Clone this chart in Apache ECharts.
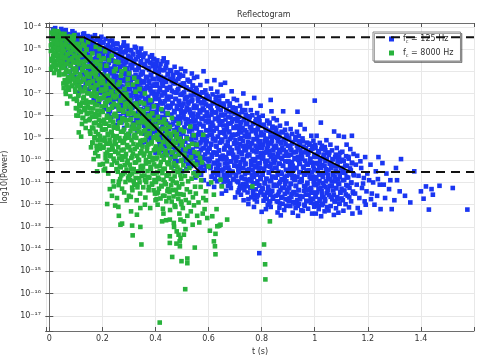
<!DOCTYPE html>
<html>
<head>
<meta charset="utf-8">
<script src="https://cdn.jsdelivr.net/npm/echarts@6/dist/echarts.min.js"></script>
<style>
html, body { margin: 0; padding: 0; background: #fff; }
#chart { width: 482px; height: 355px; }
</style>
</head>
<body>
<div id="chart"></div>
<script>
// t (s), log10(Power)
var blue125 = [
[0.022,-4.06],[0.045,-4.1],[0.014,-4.13],[0.05,-4.18],[0.031,-4.22],[0.04,-4.26],[0.018,-4.3],[0.048,-4.35],[0.027,-4.4],[0.036,-4.45],[0.012,-4.5],[0.043,-4.55],[0.024,-4.62],[0.049,-4.7],[0.034,-4.78],[0.041,-4.88],
[0.062,-4.15],[0.087,-4.2],[0.054,-4.24],[0.095,-4.28],[0.071,-4.33],[0.08,-4.38],[0.058,-4.42],[0.091,-4.47],[0.067,-4.52],[0.076,-4.56],[0.099,-4.61],[0.052,-4.66],[0.083,-4.7],[0.064,-4.75],[0.089,-4.8],[0.074,-4.85],[0.056,-4.9],[0.096,-4.95],[0.069,-5.0],[0.078,-5.06],[0.06,-5.12],[0.093,-5.18],[0.085,-5.25],[0.051,-5.32],[0.072,-5.4],[0.097,-5.48],[0.065,-5.57],[0.081,-5.66],[0.059,-5.76],[0.088,-5.9],[0.077,-6.05],[0.092,-6.2],[0.099,-6.4],
[0.131,-4.3],[0.107,-4.36],[0.144,-4.42],[0.119,-4.48],[0.102,-4.54],[0.138,-4.6],[0.125,-4.66],[0.113,-4.72],[0.147,-4.78],[0.109,-4.84],[0.134,-4.9],[0.121,-4.96],[0.14,-5.02],[0.105,-5.08],[0.128,-5.14],[0.116,-5.2],[0.143,-5.26],[0.111,-5.32],[0.136,-5.38],[0.123,-5.44],[0.101,-5.5],[0.149,-5.56],[0.118,-5.62],[0.13,-5.68],[0.106,-5.74],[0.141,-5.8],[0.114,-5.86],[0.126,-5.92],[0.145,-5.98],[0.103,-6.04],[0.133,-6.1],[0.12,-6.16],[0.139,-6.22],[0.108,-6.28],[0.127,-6.34],[0.146,-6.4],[0.115,-6.47],[0.137,-6.55],[0.104,-6.63],[0.124,-6.72],[0.148,-6.82],[0.112,-6.95],
[0.172,-4.38],[0.196,-4.45],[0.159,-4.51],[0.183,-4.58],[0.165,-4.64],[0.19,-4.71],[0.153,-4.77],[0.177,-4.84],[0.168,-4.9],[0.194,-4.97],[0.156,-5.03],[0.186,-5.1],[0.162,-5.16],[0.179,-5.23],[0.198,-5.29],[0.151,-5.36],[0.175,-5.42],[0.188,-5.49],[0.164,-5.55],[0.192,-5.62],[0.157,-5.68],[0.181,-5.75],[0.17,-5.81],[0.197,-5.88],[0.154,-5.94],[0.185,-6.01],[0.166,-6.07],[0.176,-6.14],[0.193,-6.2],[0.16,-6.27],[0.18,-6.33],[0.152,-6.4],[0.189,-6.46],[0.173,-6.53],[0.163,-6.6],[0.195,-6.67],[0.155,-6.74],[0.184,-6.81],[0.169,-6.88],[0.191,-6.96],[0.158,-7.04],[0.178,-7.12],[0.199,-7.2],[0.167,-7.3],[0.187,-7.42],
[0.212,-4.55],[0.237,-4.62],[0.204,-4.69],[0.245,-4.76],[0.221,-4.83],[0.23,-4.9],[0.208,-4.97],[0.241,-5.04],[0.217,-5.11],[0.226,-5.18],[0.249,-5.25],[0.202,-5.32],[0.233,-5.39],[0.214,-5.46],[0.239,-5.53],[0.224,-5.6],[0.206,-5.67],[0.246,-5.74],[0.219,-5.81],[0.228,-5.88],[0.21,-5.95],[0.243,-6.02],[0.235,-6.09],[0.201,-6.16],[0.222,-6.23],[0.247,-6.3],[0.215,-6.37],[0.231,-6.44],[0.209,-6.51],[0.238,-6.58],[0.227,-6.65],[0.203,-6.72],[0.244,-6.79],[0.218,-6.86],[0.236,-6.93],[0.211,-7.0],[0.248,-7.07],[0.225,-7.14],[0.205,-7.21],[0.24,-7.28],[0.22,-7.35],[0.232,-7.43],[0.213,-7.51],[0.242,-7.6],[0.207,-7.7],[0.229,-7.8],[0.223,-7.92],[0.234,-8.05],
[0.281,-4.7],[0.257,-4.78],[0.294,-4.85],[0.269,-4.93],[0.252,-5.0],[0.288,-5.08],[0.275,-5.15],[0.263,-5.23],[0.297,-5.3],[0.259,-5.38],[0.284,-5.45],[0.271,-5.53],[0.29,-5.6],[0.255,-5.68],[0.278,-5.75],[0.266,-5.83],[0.293,-5.9],[0.261,-5.98],[0.286,-6.05],[0.273,-6.13],[0.251,-6.2],[0.299,-6.28],[0.268,-6.35],[0.28,-6.43],[0.256,-6.5],[0.291,-6.58],[0.264,-6.65],[0.276,-6.73],[0.295,-6.8],[0.253,-6.88],[0.283,-6.95],[0.27,-7.03],[0.289,-7.1],[0.258,-7.18],[0.277,-7.25],[0.296,-7.33],[0.265,-7.4],[0.287,-7.48],[0.254,-7.55],[0.274,-7.63],[0.298,-7.7],[0.262,-7.78],[0.279,-7.86],[0.292,-7.94],[0.267,-8.02],[0.285,-8.1],[0.26,-8.2],[0.272,-8.3],[0.25,-8.42],[0.282,-8.55],
[0.322,-4.9],[0.346,-4.98],[0.309,-5.06],[0.333,-5.14],[0.315,-5.22],[0.34,-5.3],[0.303,-5.38],[0.327,-5.46],[0.318,-5.54],[0.344,-5.62],[0.306,-5.7],[0.336,-5.78],[0.312,-5.86],[0.329,-5.94],[0.348,-6.02],[0.301,-6.1],[0.325,-6.18],[0.338,-6.26],[0.314,-6.34],[0.342,-6.42],[0.307,-6.5],[0.331,-6.58],[0.32,-6.66],[0.347,-6.74],[0.304,-6.82],[0.335,-6.9],[0.316,-6.98],[0.326,-7.06],[0.343,-7.14],[0.31,-7.22],[0.33,-7.3],[0.302,-7.38],[0.339,-7.46],[0.323,-7.54],[0.313,-7.62],[0.345,-7.7],[0.305,-7.78],[0.334,-7.86],[0.319,-7.94],[0.341,-8.02],[0.308,-8.1],[0.328,-8.18],[0.349,-8.26],[0.317,-8.34],[0.337,-8.42],[0.311,-8.5],[0.324,-8.6],[0.332,-8.7],[0.3,-8.82],[0.321,-8.95],
[0.362,-5.2],[0.387,-5.28],[0.354,-5.36],[0.395,-5.45],[0.371,-5.53],[0.38,-5.61],[0.358,-5.69],[0.391,-5.77],[0.367,-5.86],[0.376,-5.94],[0.399,-6.02],[0.352,-6.1],[0.383,-6.18],[0.364,-6.27],[0.389,-6.35],[0.374,-6.43],[0.356,-6.51],[0.396,-6.59],[0.369,-6.68],[0.378,-6.76],[0.36,-6.84],[0.393,-6.92],[0.385,-7.0],[0.351,-7.09],[0.372,-7.17],[0.397,-7.25],[0.365,-7.33],[0.381,-7.41],[0.359,-7.5],[0.388,-7.58],[0.377,-7.66],[0.353,-7.74],[0.394,-7.82],[0.368,-7.91],[0.386,-7.99],[0.361,-8.07],[0.398,-8.15],[0.375,-8.23],[0.355,-8.32],[0.39,-8.4],[0.37,-8.48],[0.382,-8.56],[0.363,-8.64],[0.392,-8.73],[0.357,-8.81],[0.379,-8.89],[0.373,-8.98],[0.384,-9.08],[0.366,-9.18],[0.35,-9.3],
[0.431,-5.42],[0.407,-5.51],[0.444,-5.6],[0.419,-5.68],[0.402,-5.77],[0.438,-5.86],[0.425,-5.95],[0.413,-6.04],[0.447,-6.12],[0.409,-6.21],[0.434,-6.3],[0.421,-6.39],[0.44,-6.48],[0.405,-6.56],[0.428,-6.65],[0.416,-6.74],[0.443,-6.83],[0.411,-6.92],[0.436,-7.0],[0.423,-7.09],[0.401,-7.18],[0.449,-7.27],[0.418,-7.36],[0.43,-7.44],[0.406,-7.53],[0.441,-7.62],[0.414,-7.71],[0.426,-7.8],[0.445,-7.88],[0.403,-7.97],[0.433,-8.06],[0.42,-8.15],[0.439,-8.24],[0.408,-8.32],[0.427,-8.41],[0.446,-8.5],[0.415,-8.59],[0.437,-8.68],[0.404,-8.76],[0.424,-8.85],[0.448,-8.94],[0.412,-9.03],[0.429,-9.12],[0.442,-9.2],[0.417,-9.29],[0.435,-9.38],[0.41,-9.47],[0.422,-9.56],[0.4,-9.66],[0.432,-9.78],
[0.472,-5.8],[0.496,-5.89],[0.459,-5.98],[0.483,-6.07],[0.465,-6.16],[0.49,-6.25],[0.453,-6.34],[0.477,-6.43],[0.468,-6.52],[0.494,-6.61],[0.456,-6.7],[0.486,-6.79],[0.462,-6.88],[0.479,-6.97],[0.498,-7.06],[0.451,-7.15],[0.475,-7.24],[0.488,-7.33],[0.464,-7.42],[0.492,-7.51],[0.457,-7.6],[0.481,-7.69],[0.47,-7.78],[0.497,-7.87],[0.454,-7.96],[0.485,-8.05],[0.466,-8.14],[0.476,-8.23],[0.493,-8.32],[0.46,-8.41],[0.48,-8.5],[0.452,-8.59],[0.489,-8.68],[0.473,-8.77],[0.463,-8.86],[0.495,-8.95],[0.455,-9.04],[0.484,-9.13],[0.469,-9.22],[0.491,-9.31],[0.458,-9.4],[0.478,-9.49],[0.499,-9.58],[0.467,-9.67],[0.487,-9.76],[0.461,-9.85],[0.474,-9.94],[0.482,-10.04],[0.45,-10.14],[0.471,-10.26],
[0.512,-6.0],[0.537,-6.1],[0.504,-6.2],[0.545,-6.3],[0.521,-6.38],[0.53,-6.46],[0.508,-6.55],[0.541,-6.64],[0.517,-6.73],[0.526,-6.82],[0.549,-6.91],[0.502,-7.0],[0.533,-7.09],[0.514,-7.18],[0.539,-7.27],[0.524,-7.36],[0.506,-7.45],[0.546,-7.54],[0.519,-7.63],[0.528,-7.72],[0.51,-7.81],[0.543,-7.9],[0.535,-7.99],[0.501,-8.08],[0.522,-8.17],[0.547,-8.26],[0.515,-8.35],[0.531,-8.44],[0.509,-8.53],[0.538,-8.62],[0.527,-8.71],[0.503,-8.8],[0.544,-8.89],[0.518,-8.98],[0.536,-9.07],[0.511,-9.16],[0.548,-9.25],[0.525,-9.34],[0.505,-9.43],[0.54,-9.52],[0.52,-9.61],[0.532,-9.7],[0.513,-9.79],[0.542,-9.88],[0.507,-9.97],[0.529,-10.06],[0.523,-10.16],[0.534,-10.26],[0.516,-10.38],[0.5,-10.5],
[0.581,-6.0],[0.557,-6.25],[0.594,-6.45],[0.569,-6.62],[0.552,-6.75],[0.588,-6.86],[0.575,-6.95],[0.563,-7.04],[0.597,-7.13],[0.559,-7.22],[0.584,-7.31],[0.571,-7.4],[0.59,-7.49],[0.555,-7.58],[0.578,-7.67],[0.566,-7.76],[0.593,-7.85],[0.561,-7.94],[0.586,-8.03],[0.573,-8.12],[0.551,-8.21],[0.599,-8.3],[0.568,-8.39],[0.58,-8.48],[0.556,-8.57],[0.591,-8.66],[0.564,-8.75],[0.576,-8.84],[0.595,-8.93],[0.553,-9.02],[0.583,-9.11],[0.57,-9.2],[0.589,-9.29],[0.558,-9.38],[0.577,-9.47],[0.596,-9.56],[0.565,-9.65],[0.587,-9.74],[0.554,-9.83],[0.574,-9.92],[0.598,-10.01],[0.562,-10.1],[0.579,-10.19],[0.592,-10.28],[0.567,-10.37],[0.585,-10.46],[0.56,-10.56],[0.572,-10.66],[0.55,-10.78],[0.582,-10.9],
[0.622,-6.4],[0.646,-6.6],[0.609,-6.78],[0.633,-6.92],[0.615,-7.04],[0.64,-7.14],[0.603,-7.23],[0.627,-7.32],[0.618,-7.41],[0.644,-7.5],[0.606,-7.59],[0.636,-7.68],[0.612,-7.77],[0.629,-7.86],[0.648,-7.95],[0.601,-8.04],[0.625,-8.13],[0.638,-8.22],[0.614,-8.31],[0.642,-8.4],[0.607,-8.49],[0.631,-8.58],[0.62,-8.67],[0.647,-8.76],[0.604,-8.85],[0.635,-8.94],[0.616,-9.03],[0.626,-9.12],[0.643,-9.21],[0.61,-9.3],[0.63,-9.39],[0.602,-9.48],[0.639,-9.57],[0.623,-9.66],[0.613,-9.75],[0.645,-9.84],[0.605,-9.93],[0.634,-10.02],[0.619,-10.11],[0.641,-10.2],[0.608,-10.29],[0.628,-10.38],[0.649,-10.47],[0.617,-10.56],[0.637,-10.65],[0.611,-10.74],[0.624,-10.84],[0.632,-10.95],[0.6,-11.07],[0.621,-11.2],
[0.662,-6.52],[0.687,-6.9],[0.654,-7.1],[0.695,-7.24],[0.671,-7.35],[0.68,-7.45],[0.658,-7.54],[0.691,-7.63],[0.667,-7.72],[0.676,-7.81],[0.699,-7.9],[0.652,-7.99],[0.683,-8.08],[0.664,-8.17],[0.689,-8.26],[0.674,-8.35],[0.656,-8.44],[0.696,-8.53],[0.669,-8.62],[0.678,-8.71],[0.66,-8.8],[0.693,-8.89],[0.685,-8.98],[0.651,-9.07],[0.672,-9.16],[0.697,-9.25],[0.665,-9.34],[0.681,-9.43],[0.659,-9.52],[0.688,-9.61],[0.677,-9.7],[0.653,-9.79],[0.694,-9.88],[0.668,-9.97],[0.686,-10.06],[0.661,-10.15],[0.698,-10.24],[0.675,-10.33],[0.655,-10.42],[0.69,-10.51],[0.67,-10.6],[0.682,-10.69],[0.663,-10.78],[0.692,-10.87],[0.657,-10.96],[0.679,-11.05],[0.673,-11.15],[0.684,-11.25],[0.666,-11.37],[0.65,-11.5],
[0.731,-7.0],[0.707,-7.3],[0.744,-7.45],[0.719,-7.56],[0.702,-7.66],[0.738,-7.75],[0.725,-7.84],[0.713,-7.93],[0.747,-8.02],[0.709,-8.11],[0.734,-8.2],[0.721,-8.29],[0.74,-8.38],[0.705,-8.47],[0.728,-8.56],[0.716,-8.65],[0.743,-8.74],[0.711,-8.83],[0.736,-8.92],[0.723,-9.01],[0.701,-9.1],[0.749,-9.19],[0.718,-9.28],[0.73,-9.37],[0.706,-9.46],[0.741,-9.55],[0.714,-9.64],[0.726,-9.73],[0.745,-9.82],[0.703,-9.91],[0.733,-10.0],[0.72,-10.09],[0.739,-10.18],[0.708,-10.27],[0.727,-10.36],[0.746,-10.45],[0.715,-10.54],[0.737,-10.63],[0.704,-10.72],[0.724,-10.81],[0.748,-10.9],[0.712,-10.99],[0.729,-11.08],[0.742,-11.17],[0.717,-11.26],[0.735,-11.35],[0.71,-11.45],[0.722,-11.55],[0.7,-11.67],[0.732,-11.8],
[0.772,-7.2],[0.796,-7.55],[0.759,-7.75],[0.783,-7.88],[0.765,-7.98],[0.79,-8.07],[0.753,-8.16],[0.777,-8.25],[0.768,-8.34],[0.794,-8.43],[0.756,-8.52],[0.786,-8.61],[0.762,-8.7],[0.779,-8.79],[0.798,-8.88],[0.751,-8.97],[0.775,-9.06],[0.788,-9.15],[0.764,-9.24],[0.792,-9.33],[0.757,-9.42],[0.781,-9.51],[0.77,-9.6],[0.797,-9.69],[0.754,-9.78],[0.785,-9.87],[0.766,-9.96],[0.776,-10.05],[0.793,-10.14],[0.76,-10.23],[0.78,-10.32],[0.752,-10.41],[0.789,-10.5],[0.773,-10.59],[0.763,-10.68],[0.795,-10.77],[0.755,-10.86],[0.784,-10.95],[0.769,-11.04],[0.791,-11.13],[0.758,-11.22],[0.778,-11.31],[0.799,-11.4],[0.767,-11.49],[0.787,-11.58],[0.761,-11.67],[0.774,-11.76],[0.782,-11.86],[0.75,-11.97],[0.771,-12.1],[0.791,-14.18],
[0.834,-7.29],[0.837,-7.8],[0.804,-8.0],[0.845,-8.12],[0.821,-8.22],[0.83,-8.31],[0.808,-8.4],[0.841,-8.49],[0.817,-8.58],[0.826,-8.67],[0.849,-8.76],[0.802,-8.85],[0.833,-8.94],[0.814,-9.03],[0.839,-9.12],[0.824,-9.21],[0.806,-9.3],[0.846,-9.39],[0.819,-9.48],[0.828,-9.57],[0.81,-9.66],[0.843,-9.75],[0.835,-9.84],[0.801,-9.93],[0.822,-10.02],[0.847,-10.11],[0.815,-10.2],[0.831,-10.29],[0.809,-10.38],[0.838,-10.47],[0.827,-10.56],[0.803,-10.65],[0.844,-10.74],[0.818,-10.83],[0.836,-10.92],[0.811,-11.01],[0.848,-11.1],[0.825,-11.19],[0.805,-11.28],[0.84,-11.37],[0.82,-11.46],[0.832,-11.55],[0.813,-11.64],[0.842,-11.73],[0.807,-11.82],[0.829,-11.91],[0.823,-12.0],[0.834,-12.1],[0.816,-12.2],[0.8,-12.32],
[0.881,-7.8],[0.857,-8.2],[0.894,-8.35],[0.869,-8.45],[0.852,-8.54],[0.888,-8.63],[0.875,-8.72],[0.863,-8.81],[0.897,-8.9],[0.859,-8.99],[0.884,-9.08],[0.871,-9.17],[0.89,-9.26],[0.855,-9.35],[0.878,-9.44],[0.866,-9.53],[0.893,-9.62],[0.861,-9.71],[0.886,-9.8],[0.873,-9.89],[0.851,-9.98],[0.899,-10.07],[0.868,-10.16],[0.88,-10.25],[0.856,-10.34],[0.891,-10.43],[0.864,-10.52],[0.876,-10.61],[0.895,-10.7],[0.853,-10.79],[0.883,-10.88],[0.87,-10.97],[0.889,-11.06],[0.858,-11.15],[0.877,-11.24],[0.896,-11.33],[0.865,-11.42],[0.887,-11.51],[0.854,-11.6],[0.874,-11.69],[0.898,-11.78],[0.862,-11.87],[0.879,-11.96],[0.892,-12.05],[0.867,-12.14],[0.885,-12.24],[0.86,-12.35],[0.872,-12.48],
[0.935,-7.82],[0.946,-8.4],[0.909,-8.6],[0.933,-8.72],[0.915,-8.82],[0.94,-8.91],[0.903,-9.0],[0.927,-9.09],[0.918,-9.18],[0.944,-9.27],[0.906,-9.36],[0.936,-9.45],[0.912,-9.54],[0.929,-9.63],[0.948,-9.72],[0.901,-9.81],[0.925,-9.9],[0.938,-9.99],[0.914,-10.08],[0.942,-10.17],[0.907,-10.26],[0.931,-10.35],[0.92,-10.44],[0.947,-10.53],[0.904,-10.62],[0.922,-10.71],[0.916,-10.8],[0.926,-10.89],[0.943,-10.98],[0.91,-11.07],[0.93,-11.16],[0.902,-11.25],[0.939,-11.34],[0.923,-11.43],[0.913,-11.52],[0.945,-11.61],[0.905,-11.7],[0.934,-11.79],[0.919,-11.88],[0.941,-11.97],[0.908,-12.06],[0.928,-12.15],[0.949,-12.25],[0.917,-12.36],[0.937,-12.5],
[1.0,-7.32],[0.962,-8.6],[0.987,-8.9],[0.954,-9.02],[0.995,-9.12],[0.971,-9.21],[0.98,-9.3],[0.958,-9.39],[0.991,-9.48],[0.967,-9.57],[0.976,-9.66],[0.999,-9.75],[0.952,-9.84],[0.983,-9.93],[0.964,-10.02],[0.989,-10.11],[0.974,-10.2],[0.956,-10.29],[0.996,-10.38],[0.969,-10.47],[0.978,-10.56],[0.96,-10.65],[0.993,-10.74],[0.985,-10.83],[0.951,-10.92],[0.972,-11.01],[0.997,-11.1],[0.965,-11.19],[0.981,-11.28],[0.959,-11.37],[0.988,-11.46],[0.977,-11.55],[0.953,-11.64],[0.994,-11.73],[0.968,-11.82],[0.986,-11.91],[0.961,-12.0],[0.998,-12.09],[0.975,-12.18],[0.955,-12.28],[0.99,-12.4],
[1.023,-8.31],[1.007,-8.9],[1.044,-9.1],[1.019,-9.22],[1.002,-9.32],[1.038,-9.41],[1.025,-9.5],[1.013,-9.59],[1.047,-9.68],[1.009,-9.77],[1.034,-9.86],[1.021,-9.95],[1.04,-10.04],[1.005,-10.13],[1.028,-10.22],[1.016,-10.31],[1.043,-10.4],[1.011,-10.49],[1.036,-10.58],[1.031,-10.67],[1.001,-10.76],[1.049,-10.85],[1.018,-10.94],[1.03,-11.03],[1.006,-11.12],[1.041,-11.21],[1.014,-11.3],[1.026,-11.39],[1.045,-11.48],[1.003,-11.57],[1.033,-11.66],[1.02,-11.75],[1.039,-11.84],[1.008,-11.93],[1.027,-12.02],[1.046,-12.11],[1.015,-12.2],[1.037,-12.3],[1.004,-12.4],[1.024,-12.52],
[1.073,-8.71],[1.09,-8.9],[1.059,-9.3],[1.083,-9.45],[1.065,-9.56],[1.096,-9.66],[1.053,-9.76],[1.077,-9.86],[1.068,-9.96],[1.094,-10.06],[1.056,-10.16],[1.086,-10.26],[1.062,-10.36],[1.079,-10.46],[1.098,-10.56],[1.051,-10.66],[1.075,-10.76],[1.088,-10.86],[1.064,-10.96],[1.092,-11.06],[1.057,-11.16],[1.081,-11.26],[1.07,-11.36],[1.097,-11.46],[1.054,-11.56],[1.085,-11.66],[1.066,-11.76],[1.076,-11.86],[1.093,-11.96],[1.06,-12.06],[1.08,-12.16],[1.052,-12.26],[1.089,-12.36],[1.072,-12.46],
[1.14,-8.9],[1.11,-8.95],[1.12,-9.3],[1.134,-9.5],[1.104,-9.62],[1.146,-9.72],[1.118,-9.82],[1.128,-9.93],[1.109,-10.04],[1.141,-10.14],[1.122,-10.25],[1.102,-10.36],[1.136,-10.46],[1.115,-10.57],[1.148,-10.68],[1.126,-10.78],[1.106,-10.9],[1.138,-11.0],[1.119,-11.12],[1.131,-11.24],[1.112,-11.36],[1.144,-11.48],[1.124,-11.6],[1.101,-11.72],[1.137,-11.85],[1.116,-11.98],[1.129,-12.12],[1.108,-12.27],[1.142,-12.4],
[1.16,-9.8],[1.19,-9.86],[1.155,-10.2],[1.175,-10.35],[1.165,-10.7],[1.185,-10.8],[1.198,-10.6],[1.158,-11.1],[1.178,-11.25],[1.195,-11.4],[1.168,-11.7],[1.188,-11.85],[1.162,-12.15],[1.172,-10.05],[1.182,-11.05],[1.152,-11.5],[1.192,-12.0],[1.17,-12.35],
[1.24,-9.86],[1.21,-10.2],[1.23,-10.5],[1.205,-10.9],[1.22,-11.0],[1.245,-11.1],[1.215,-11.5],[1.235,-11.6],[1.225,-12.0],[1.248,-12.2],[1.212,-11.75],[1.238,-10.85],
[1.255,-10.13],[1.27,-10.6],[1.26,-11.1],[1.28,-11.3],[1.265,-11.7],[1.29,-12.2],[1.306,-10.35],[1.325,-9.95],[1.31,-10.9],[1.32,-11.4],[1.3,-11.8],[1.34,-11.6],[1.285,-10.9],
[1.375,-10.5],[1.4,-11.4],[1.419,-11.18],[1.44,-11.3],[1.445,-11.55],[1.47,-11.15],[1.52,-11.25],[1.43,-12.22],[1.575,-12.22],[1.41,-11.73],[1.36,-11.9],
// denser core of the 125 Hz cloud
[0.127,-4.33],[0.103,-4.43],[0.14,-4.53],[0.115,-4.63],[0.133,-4.73],[0.108,-4.83],[0.146,-4.93],[0.12,-5.03],[0.111,-5.13],[0.137,-5.23],[0.124,-5.33],[0.101,-5.43],[0.144,-5.53],[0.117,-5.63],[0.13,-5.73],
[0.155,-4.45],[0.179,-4.55],[0.192,-4.65],[0.167,-4.75],[0.186,-4.85],[0.161,-4.95],[0.174,-5.05],[0.198,-5.15],[0.152,-5.25],[0.183,-5.35],[0.169,-5.45],[0.194,-5.55],[0.158,-5.65],[0.177,-5.75],[0.189,-5.85],[0.164,-5.95],[0.181,-6.05],[0.151,-6.15],[0.196,-6.25],[0.172,-6.35],
[0.227,-4.63],[0.203,-4.73],[0.24,-4.83],[0.215,-4.93],[0.233,-5.03],[0.208,-5.13],[0.246,-5.23],[0.22,-5.33],[0.211,-5.43],[0.237,-5.53],[0.224,-5.63],[0.201,-5.73],[0.244,-5.83],[0.217,-5.93],[0.23,-6.03],[0.206,-6.13],[0.242,-6.23],[0.213,-6.33],[0.235,-6.43],[0.222,-6.53],[0.248,-6.63],[0.209,-6.73],[0.228,-6.83],[0.204,-6.93],[0.239,-7.03],[0.218,-7.13],[0.231,-7.23],
[0.255,-4.75],[0.279,-4.85],[0.292,-4.95],[0.267,-5.05],[0.286,-5.15],[0.261,-5.25],[0.274,-5.35],[0.298,-5.45],[0.252,-5.55],[0.283,-5.65],[0.269,-5.75],[0.294,-5.85],[0.258,-5.95],[0.277,-6.05],[0.289,-6.15],[0.264,-6.25],[0.281,-6.35],[0.251,-6.45],[0.296,-6.55],[0.272,-6.65],[0.26,-6.75],[0.287,-6.85],[0.275,-6.95],[0.293,-7.05],[0.266,-7.15],[0.253,-7.25],[0.284,-7.35],[0.271,-7.45],[0.297,-7.55],[0.262,-7.65],[0.278,-7.75],
[0.327,-4.95],[0.303,-5.05],[0.34,-5.15],[0.315,-5.25],[0.333,-5.35],[0.308,-5.45],[0.346,-5.55],[0.32,-5.65],[0.311,-5.75],[0.337,-5.85],[0.324,-5.95],[0.301,-6.05],[0.344,-6.15],[0.317,-6.25],[0.33,-6.35],[0.306,-6.45],[0.342,-6.55],[0.313,-6.65],[0.335,-6.75],[0.322,-6.85],[0.348,-6.95],[0.309,-7.05],[0.328,-7.15],[0.304,-7.25],[0.339,-7.35],[0.318,-7.45],[0.331,-7.55],[0.312,-7.65],[0.345,-7.75],[0.302,-7.85],[0.325,-7.95],[0.336,-8.05],[0.307,-8.15],[0.343,-8.25],[0.319,-8.35],
[0.355,-5.25],[0.379,-5.35],[0.392,-5.45],[0.367,-5.55],[0.386,-5.65],[0.361,-5.75],[0.374,-5.85],[0.398,-5.95],[0.352,-6.05],[0.383,-6.15],[0.369,-6.25],[0.394,-6.35],[0.358,-6.45],[0.377,-6.55],[0.389,-6.65],[0.364,-6.75],[0.381,-6.85],[0.351,-6.95],[0.396,-7.05],[0.372,-7.15],[0.36,-7.25],[0.387,-7.35],[0.375,-7.45],[0.393,-7.55],[0.366,-7.65],[0.353,-7.75],[0.384,-7.85],[0.371,-7.95],[0.397,-8.05],[0.362,-8.15],[0.378,-8.25],[0.39,-8.35],[0.357,-8.45],[0.368,-8.55],[0.395,-8.65],[0.373,-8.75],[0.382,-8.85],
[0.427,-5.55],[0.403,-5.65],[0.44,-5.75],[0.415,-5.85],[0.433,-5.95],[0.408,-6.05],[0.446,-6.15],[0.42,-6.25],[0.411,-6.35],[0.437,-6.45],[0.424,-6.55],[0.401,-6.65],[0.444,-6.75],[0.417,-6.85],[0.43,-6.95],[0.406,-7.05],[0.442,-7.15],[0.413,-7.25],[0.435,-7.35],[0.422,-7.45],[0.448,-7.55],[0.409,-7.65],[0.428,-7.75],[0.404,-7.85],[0.439,-7.95],[0.418,-8.05],[0.431,-8.15],[0.412,-8.25],[0.445,-8.35],[0.402,-8.45],[0.425,-8.55],[0.436,-8.65],[0.407,-8.75],[0.443,-8.85],[0.419,-8.95],[0.432,-9.05],[0.414,-9.15],[0.447,-9.25],[0.423,-9.35],
[0.455,-5.95],[0.479,-6.05],[0.492,-6.15],[0.467,-6.25],[0.486,-6.35],[0.461,-6.45],[0.474,-6.55],[0.498,-6.65],[0.452,-6.75],[0.483,-6.85],[0.469,-6.95],[0.494,-7.05],[0.458,-7.15],[0.477,-7.25],[0.489,-7.35],[0.464,-7.45],[0.481,-7.55],[0.451,-7.65],[0.496,-7.75],[0.472,-7.85],[0.46,-7.95],[0.487,-8.05],[0.475,-8.15],[0.493,-8.25],[0.466,-8.35],[0.453,-8.45],[0.484,-8.55],[0.471,-8.65],[0.497,-8.75],[0.462,-8.85],[0.478,-8.95],[0.49,-9.05],[0.457,-9.15],[0.468,-9.25],[0.495,-9.35],[0.473,-9.45],[0.482,-9.55],[0.45,-9.65],[0.488,-9.75],
[0.527,-6.45],[0.503,-6.55],[0.54,-6.65],[0.515,-6.75],[0.533,-6.85],[0.508,-6.95],[0.546,-7.05],[0.52,-7.15],[0.511,-7.25],[0.537,-7.35],[0.524,-7.45],[0.501,-7.55],[0.544,-7.65],[0.517,-7.75],[0.53,-7.85],[0.506,-7.95],[0.542,-8.05],[0.513,-8.15],[0.535,-8.25],[0.522,-8.35],[0.548,-8.45],[0.509,-8.55],[0.528,-8.65],[0.504,-8.75],[0.539,-8.85],[0.518,-8.95],[0.531,-9.05],[0.512,-9.15],[0.545,-9.25],[0.502,-9.35],[0.525,-9.45],[0.536,-9.55],[0.507,-9.65],[0.543,-9.75],[0.519,-9.85],[0.532,-9.95],[0.514,-10.05],[0.547,-10.15],
[0.555,-6.85],[0.579,-6.95],[0.592,-7.05],[0.567,-7.15],[0.586,-7.25],[0.561,-7.35],[0.574,-7.45],[0.598,-7.55],[0.552,-7.65],[0.583,-7.75],[0.569,-7.85],[0.594,-7.95],[0.558,-8.05],[0.577,-8.15],[0.589,-8.25],[0.564,-8.35],[0.581,-8.45],[0.551,-8.55],[0.596,-8.65],[0.572,-8.75],[0.56,-8.85],[0.587,-8.95],[0.575,-9.05],[0.593,-9.15],[0.566,-9.25],[0.553,-9.35],[0.584,-9.45],[0.571,-9.55],[0.597,-9.65],[0.562,-9.75],[0.578,-9.85],[0.59,-9.95],[0.557,-10.05],[0.568,-10.15],[0.595,-10.25],[0.573,-10.35],[0.582,-10.45],[0.55,-10.55],
[0.627,-7.15],[0.603,-7.25],[0.64,-7.35],[0.615,-7.45],[0.633,-7.55],[0.608,-7.65],[0.646,-7.75],[0.62,-7.85],[0.611,-7.95],[0.637,-8.05],[0.624,-8.15],[0.601,-8.25],[0.644,-8.35],[0.617,-8.45],[0.63,-8.55],[0.606,-8.65],[0.642,-8.75],[0.613,-8.85],[0.635,-8.95],[0.622,-9.05],[0.648,-9.15],[0.609,-9.25],[0.628,-9.35],[0.604,-9.45],[0.639,-9.55],[0.618,-9.65],[0.631,-9.75],[0.612,-9.85],[0.645,-9.95],[0.602,-10.05],[0.625,-10.15],[0.636,-10.25],[0.607,-10.35],[0.643,-10.45],[0.619,-10.55],[0.632,-10.65],[0.614,-10.75],[0.647,-10.85],
[0.655,-7.45],[0.679,-7.55],[0.692,-7.65],[0.667,-7.75],[0.686,-7.85],[0.661,-7.95],[0.674,-8.05],[0.698,-8.15],[0.652,-8.25],[0.683,-8.35],[0.669,-8.45],[0.694,-8.55],[0.658,-8.65],[0.677,-8.75],[0.689,-8.85],[0.664,-8.95],[0.681,-9.05],[0.651,-9.15],[0.696,-9.25],[0.672,-9.35],[0.66,-9.45],[0.687,-9.55],[0.675,-9.65],[0.693,-9.75],[0.666,-9.85],[0.653,-9.95],[0.684,-10.05],[0.671,-10.15],[0.697,-10.25],[0.662,-10.35],[0.678,-10.45],[0.69,-10.55],[0.657,-10.65],[0.668,-10.75],[0.695,-10.85],[0.673,-10.95],[0.682,-11.05],[0.65,-11.15],
[0.727,-7.75],[0.703,-7.85],[0.74,-7.95],[0.715,-8.05],[0.733,-8.15],[0.708,-8.25],[0.746,-8.35],[0.72,-8.45],[0.711,-8.55],[0.737,-8.65],[0.724,-8.75],[0.701,-8.85],[0.744,-8.95],[0.717,-9.05],[0.73,-9.15],[0.706,-9.25],[0.742,-9.35],[0.713,-9.45],[0.735,-9.55],[0.722,-9.65],[0.748,-9.75],[0.709,-9.85],[0.728,-9.95],[0.704,-10.05],[0.739,-10.15],[0.718,-10.25],[0.731,-10.35],[0.712,-10.45],[0.745,-10.55],[0.702,-10.65],[0.725,-10.75],[0.736,-10.85],[0.707,-10.95],[0.743,-11.05],[0.719,-11.15],[0.732,-11.25],[0.714,-11.35],[0.747,-11.45],
[0.755,-8.05],[0.779,-8.15],[0.792,-8.25],[0.767,-8.35],[0.786,-8.45],[0.761,-8.55],[0.774,-8.65],[0.798,-8.75],[0.752,-8.85],[0.783,-8.95],[0.769,-9.05],[0.794,-9.15],[0.758,-9.25],[0.777,-9.35],[0.789,-9.45],[0.764,-9.55],[0.781,-9.65],[0.751,-9.75],[0.796,-9.85],[0.772,-9.95],[0.76,-10.05],[0.787,-10.15],[0.775,-10.25],[0.793,-10.35],[0.766,-10.45],[0.753,-10.55],[0.784,-10.65],[0.771,-10.75],[0.797,-10.85],[0.762,-10.95],[0.778,-11.05],[0.79,-11.15],[0.757,-11.25],[0.768,-11.35],[0.795,-11.45],[0.773,-11.55],[0.782,-11.65],[0.75,-11.75],
[0.827,-8.35],[0.803,-8.45],[0.84,-8.55],[0.815,-8.65],[0.833,-8.75],[0.808,-8.85],[0.846,-8.95],[0.82,-9.05],[0.811,-9.15],[0.837,-9.25],[0.824,-9.35],[0.801,-9.45],[0.844,-9.55],[0.817,-9.65],[0.83,-9.75],[0.806,-9.85],[0.842,-9.95],[0.813,-10.05],[0.835,-10.15],[0.822,-10.25],[0.848,-10.35],[0.809,-10.45],[0.828,-10.55],[0.804,-10.65],[0.839,-10.75],[0.818,-10.85],[0.831,-10.95],[0.812,-11.05],[0.845,-11.15],[0.802,-11.25],[0.825,-11.35],[0.836,-11.45],[0.807,-11.55],[0.843,-11.65],[0.819,-11.75],[0.832,-11.85],
[0.855,-8.65],[0.879,-8.75],[0.892,-8.85],[0.867,-8.95],[0.886,-9.05],[0.861,-9.15],[0.874,-9.25],[0.898,-9.35],[0.852,-9.45],[0.883,-9.55],[0.869,-9.65],[0.894,-9.75],[0.858,-9.85],[0.877,-9.95],[0.889,-10.05],[0.864,-10.15],[0.881,-10.25],[0.851,-10.35],[0.896,-10.45],[0.872,-10.55],[0.86,-10.65],[0.887,-10.75],[0.875,-10.85],[0.893,-10.95],[0.866,-11.05],[0.853,-11.15],[0.884,-11.25],[0.871,-11.35],[0.897,-11.45],[0.862,-11.55],[0.878,-11.65],[0.89,-11.75],[0.857,-11.85],[0.868,-11.95],
[0.927,-8.95],[0.903,-9.05],[0.94,-9.15],[0.915,-9.25],[0.933,-9.35],[0.908,-9.45],[0.946,-9.55],[0.92,-9.65],[0.911,-9.75],[0.937,-9.85],[0.924,-9.95],[0.901,-10.05],[0.944,-10.15],[0.917,-10.25],[0.93,-10.35],[0.906,-10.45],[0.942,-10.55],[0.913,-10.65],[0.935,-10.75],[0.922,-10.85],[0.948,-10.95],[0.909,-11.05],[0.928,-11.15],[0.904,-11.25],[0.939,-11.35],[0.918,-11.45],[0.931,-11.55],[0.912,-11.65],[0.945,-11.75],[0.902,-11.85],[0.925,-11.95],[0.936,-12.05],
[0.955,-9.15],[0.979,-9.25],[0.992,-9.35],[0.967,-9.45],[0.986,-9.55],[0.961,-9.65],[0.974,-9.75],[0.998,-9.85],[0.952,-9.95],[0.983,-10.05],[0.969,-10.15],[0.994,-10.25],[0.958,-10.35],[0.977,-10.45],[0.989,-10.55],[0.964,-10.65],[0.981,-10.75],[0.951,-10.85],[0.996,-10.95],[0.972,-11.05],[0.96,-11.15],[0.987,-11.25],[0.975,-11.35],[0.993,-11.45],[0.966,-11.55],[0.953,-11.65],[0.984,-11.75],[0.971,-11.85],[0.997,-11.95],[0.962,-12.05],
[1.027,-9.35],[1.003,-9.45],[1.04,-9.55],[1.015,-9.65],[1.033,-9.75],[1.008,-9.85],[1.046,-9.95],[1.02,-10.05],[1.011,-10.15],[1.037,-10.25],[1.024,-10.35],[1.001,-10.45],[1.044,-10.55],[1.017,-10.65],[1.03,-10.75],[1.006,-10.85],[1.042,-10.95],[1.013,-11.05],[1.035,-11.15],[1.022,-11.25],[1.048,-11.35],[1.009,-11.45],[1.028,-11.55],[1.004,-11.65],[1.039,-11.75],[1.018,-11.85],[1.031,-11.95],[1.012,-12.05],
[1.055,-9.65],[1.079,-9.75],[1.092,-9.85],[1.067,-9.95],[1.086,-10.05],[1.061,-10.15],[1.074,-10.25],[1.098,-10.35],[1.052,-10.45],[1.083,-10.55],[1.069,-10.65],[1.094,-10.75],[1.058,-10.85],[1.077,-10.95],[1.089,-11.05],[1.064,-11.15],[1.081,-11.25],[1.051,-11.35],[1.096,-11.45],[1.072,-11.55],[1.06,-11.65],[1.087,-11.75],[1.075,-11.85],[1.093,-11.95],
[1.127,-9.85],[1.103,-9.98],[1.14,-10.11],[1.115,-10.24],[1.133,-10.37],[1.108,-10.5],[1.146,-10.63],[1.12,-10.76],[1.111,-10.89],[1.137,-11.02],[1.124,-11.15],[1.101,-11.28],[1.144,-11.41],[1.117,-11.54],[1.13,-11.67],[1.106,-11.8]
];

var green8000 = [
[0.035,-4.28],[0.013,-4.32],[0.046,-4.37],[0.022,-4.41],[0.031,-4.46],[0.049,-4.5],[0.007,-4.55],[0.038,-4.59],[0.019,-4.64],[0.044,-4.68],[0.029,-4.73],[0.011,-4.77],[0.048,-4.82],[0.024,-4.86],[0.033,-4.91],[0.015,-4.95],[0.045,-5.0],[0.04,-5.04],[0.006,-5.09],[0.027,-5.13],[0.047,-5.18],[0.02,-5.22],[0.036,-5.27],[0.014,-5.31],[0.043,-5.36],[0.032,-5.4],[0.008,-5.45],[0.049,-5.49],[0.023,-5.54],[0.041,-5.58],[0.016,-5.63],[0.05,-5.68],[0.03,-5.73],[0.01,-5.79],[0.045,-5.85],[0.025,-5.92],[0.037,-6.0],[0.018,-6.08],[0.037,-6.17],[0.026,-4.23],[0.017,-4.18],
[0.057,-4.32],[0.094,-4.38],[0.069,-4.45],[0.052,-4.51],[0.088,-4.58],[0.075,-4.64],[0.063,-4.71],[0.097,-4.77],[0.059,-4.84],[0.084,-4.9],[0.071,-4.97],[0.09,-5.03],[0.055,-5.1],[0.078,-5.16],[0.066,-5.23],[0.093,-5.29],[0.061,-5.36],[0.086,-5.42],[0.073,-5.49],[0.051,-5.55],[0.099,-5.62],[0.068,-5.68],[0.08,-5.75],[0.056,-5.81],[0.091,-5.88],[0.064,-5.94],[0.076,-6.01],[0.095,-6.07],[0.053,-6.14],[0.083,-6.2],[0.07,-6.27],[0.089,-6.33],[0.058,-6.4],[0.077,-6.46],[0.096,-6.53],[0.065,-6.6],[0.087,-6.67],[0.054,-6.75],[0.074,-6.83],[0.098,-6.92],[0.062,-7.02],[0.079,-7.13],[0.092,-7.25],[0.067,-7.45],[0.1,-7.66],
[0.122,-4.6],[0.146,-4.69],[0.109,-4.77],[0.133,-4.86],[0.115,-4.94],[0.14,-5.03],[0.103,-5.11],[0.127,-5.2],[0.118,-5.28],[0.144,-5.37],[0.106,-5.45],[0.136,-5.54],[0.112,-5.62],[0.129,-5.71],[0.148,-5.79],[0.101,-5.88],[0.125,-5.96],[0.138,-6.05],[0.114,-6.13],[0.142,-6.22],[0.107,-6.3],[0.131,-6.39],[0.12,-6.47],[0.147,-6.56],[0.104,-6.64],[0.135,-6.73],[0.116,-6.81],[0.126,-6.9],[0.143,-6.98],[0.11,-7.07],[0.13,-7.15],[0.102,-7.24],[0.139,-7.32],[0.123,-7.41],[0.113,-7.49],[0.145,-7.58],[0.105,-7.66],[0.134,-7.75],[0.119,-7.83],[0.141,-7.92],[0.108,-8.0],[0.128,-8.1],[0.149,-8.2],[0.123,-8.37],[0.137,-8.55],[0.111,-8.75],[0.12,-8.94],
[0.162,-5.2],[0.187,-5.3],[0.154,-5.39],[0.195,-5.49],[0.171,-5.58],[0.18,-5.68],[0.158,-5.77],[0.191,-5.87],[0.167,-5.96],[0.176,-6.06],[0.199,-6.15],[0.152,-6.25],[0.183,-6.34],[0.164,-6.44],[0.189,-6.53],[0.174,-6.63],[0.156,-6.72],[0.196,-6.82],[0.169,-6.91],[0.178,-7.01],[0.16,-7.1],[0.193,-7.2],[0.185,-7.29],[0.151,-7.39],[0.172,-7.48],[0.197,-7.58],[0.165,-7.67],[0.181,-7.77],[0.159,-7.86],[0.188,-7.96],[0.177,-8.05],[0.153,-8.15],[0.194,-8.24],[0.168,-8.34],[0.186,-8.43],[0.161,-8.53],[0.198,-8.62],[0.175,-8.72],[0.155,-8.81],[0.19,-8.91],[0.17,-9.0],[0.182,-9.1],[0.163,-9.2],[0.192,-9.3],[0.157,-9.42],[0.179,-9.55],[0.173,-9.68],[0.184,-9.82],[0.167,-9.95],[0.18,-10.5],[0.19,-10.2],[0.205,-10.46],
[0.205,-5.42],[0.215,-5.75],[0.244,-6.0],[0.219,-6.2],[0.202,-6.35],[0.238,-6.46],[0.225,-6.56],[0.213,-6.65],[0.247,-6.74],[0.209,-6.83],[0.234,-6.92],[0.221,-7.01],[0.24,-7.1],[0.205,-7.19],[0.228,-7.28],[0.216,-7.37],[0.243,-7.46],[0.211,-7.55],[0.236,-7.64],[0.223,-7.73],[0.201,-7.82],[0.249,-7.91],[0.218,-8.0],[0.23,-8.09],[0.206,-8.18],[0.241,-8.27],[0.214,-8.36],[0.226,-8.45],[0.245,-8.54],[0.203,-8.63],[0.233,-8.72],[0.22,-8.81],[0.239,-8.9],[0.208,-8.99],[0.227,-9.08],[0.246,-9.17],[0.215,-9.26],[0.237,-9.35],[0.204,-9.44],[0.224,-9.53],[0.248,-9.62],[0.212,-9.72],[0.229,-9.82],[0.242,-9.93],[0.217,-10.05],[0.235,-10.2],[0.21,-10.38],[0.222,-10.6],
[0.25,-5.57],[0.243,-11.18],[0.218,-11.97],[0.24,-10.95],[0.236,-11.6],[0.248,-12.04],[0.228,-11.3],
[0.272,-6.0],[0.296,-6.35],[0.259,-6.6],[0.283,-6.8],[0.265,-6.92],[0.29,-7.02],[0.253,-7.12],[0.277,-7.22],[0.268,-7.32],[0.294,-7.42],[0.256,-7.52],[0.286,-7.62],[0.262,-7.72],[0.279,-7.82],[0.298,-7.92],[0.251,-8.02],[0.275,-8.12],[0.288,-8.22],[0.264,-8.32],[0.292,-8.42],[0.257,-8.52],[0.281,-8.62],[0.27,-8.72],[0.297,-8.82],[0.254,-8.92],[0.285,-9.02],[0.266,-9.12],[0.276,-9.22],[0.293,-9.32],[0.26,-9.42],[0.28,-9.52],[0.252,-9.62],[0.289,-9.72],[0.273,-9.82],[0.263,-9.92],[0.295,-10.02],[0.255,-10.12],[0.284,-10.22],[0.269,-10.32],[0.291,-10.42],[0.258,-10.52],[0.278,-10.62],[0.299,-10.73],[0.267,-10.85],[0.287,-10.98],[0.261,-11.12],[0.274,-11.28],[0.282,-11.45],
[0.3,-11.6],[0.292,-11.8],[0.26,-12.1],[0.262,-12.5],[0.268,-12.9],[0.274,-12.85],[0.255,-11.7],
[0.33,-6.47],[0.325,-6.92],[0.304,-7.3],[0.345,-7.4],[0.321,-7.5],[0.33,-7.6],[0.308,-7.7],[0.341,-7.8],[0.317,-7.9],[0.326,-8.0],[0.349,-8.1],[0.302,-8.2],[0.333,-8.3],[0.314,-8.4],[0.339,-8.5],[0.324,-8.6],[0.306,-8.7],[0.346,-8.8],[0.319,-8.9],[0.328,-9.0],[0.31,-9.1],[0.343,-9.2],[0.335,-9.3],[0.301,-9.4],[0.322,-9.5],[0.347,-9.6],[0.315,-9.7],[0.331,-9.8],[0.309,-9.9],[0.338,-10.0],[0.327,-10.1],[0.303,-10.2],[0.344,-10.3],[0.318,-10.4],[0.336,-10.5],[0.311,-10.6],[0.348,-10.7],[0.325,-10.8],[0.305,-10.9],[0.34,-11.0],[0.32,-11.1],[0.332,-11.22],[0.313,-11.35],[0.342,-11.5],[0.307,-11.65],[0.329,-11.8],
[0.343,-12.15],[0.33,-12.45],[0.312,-12.94],[0.343,-13.0],[0.314,-13.38],[0.347,-13.79],[0.308,-12.3],
[0.381,-7.3],[0.357,-7.45],[0.394,-7.58],[0.369,-7.69],[0.352,-7.79],[0.388,-7.89],[0.375,-7.99],[0.363,-8.09],[0.397,-8.19],[0.359,-8.29],[0.384,-8.39],[0.371,-8.49],[0.39,-8.59],[0.355,-8.69],[0.378,-8.79],[0.366,-8.89],[0.393,-8.99],[0.361,-9.09],[0.386,-9.19],[0.373,-9.29],[0.351,-9.39],[0.399,-9.49],[0.368,-9.59],[0.38,-9.69],[0.356,-9.79],[0.391,-9.89],[0.364,-9.99],[0.376,-10.09],[0.395,-10.19],[0.353,-10.29],[0.383,-10.39],[0.37,-10.49],[0.389,-10.59],[0.358,-10.69],[0.377,-10.79],[0.396,-10.89],[0.365,-10.99],[0.387,-11.1],[0.354,-11.22],[0.374,-11.35],[0.398,-11.5],[0.362,-11.68],
[0.38,-12.15],[0.4,-11.8],[0.36,-12.0],
[0.422,-7.7],[0.446,-7.9],[0.409,-8.05],[0.433,-8.17],[0.415,-8.28],[0.44,-8.38],[0.403,-8.48],[0.427,-8.58],[0.418,-8.68],[0.444,-8.78],[0.406,-8.88],[0.436,-8.98],[0.412,-9.08],[0.429,-9.18],[0.448,-9.28],[0.401,-9.38],[0.425,-9.48],[0.438,-9.58],[0.414,-9.68],[0.442,-9.78],[0.407,-9.88],[0.431,-9.98],[0.42,-10.08],[0.447,-10.18],[0.404,-10.28],[0.435,-10.38],[0.416,-10.48],[0.426,-10.58],[0.443,-10.68],[0.41,-10.78],[0.43,-10.88],[0.402,-10.98],[0.439,-11.08],[0.423,-11.18],[0.413,-11.28],[0.445,-11.38],[0.405,-11.49],[0.434,-11.6],[0.419,-11.72],[0.441,-11.85],[0.408,-12.0],[0.428,-12.18],
[0.43,-12.4],[0.44,-12.7],[0.425,-12.75],[0.416,-17.3],
[0.462,-8.1],[0.487,-8.35],[0.454,-8.5],[0.495,-8.62],[0.471,-8.73],[0.48,-8.83],[0.458,-8.93],[0.491,-9.03],[0.467,-9.13],[0.476,-9.23],[0.499,-9.33],[0.452,-9.43],[0.483,-9.53],[0.464,-9.63],[0.489,-9.73],[0.474,-9.83],[0.456,-9.93],[0.496,-10.03],[0.469,-10.13],[0.478,-10.23],[0.46,-10.33],[0.493,-10.43],[0.485,-10.53],[0.451,-10.63],[0.472,-10.73],[0.497,-10.83],[0.465,-10.93],[0.481,-11.03],[0.459,-11.13],[0.488,-11.23],[0.477,-11.33],[0.453,-11.43],[0.494,-11.53],[0.468,-11.63],[0.486,-11.74],[0.461,-11.86],[0.498,-11.98],[0.475,-12.1],[0.455,-12.24],[0.49,-12.4],
[0.454,-12.67],[0.469,-12.82],[0.47,-13.0],[0.48,-13.2],[0.487,-13.35],[0.494,-13.5],[0.491,-13.65],[0.494,-12.67],[0.454,-13.42],[0.454,-13.72],[0.479,-13.75],[0.492,-13.87],[0.463,-14.35],[0.498,-14.54],
[0.531,-8.49],[0.507,-8.7],[0.544,-8.88],[0.519,-9.02],[0.502,-9.15],[0.538,-9.27],[0.525,-9.39],[0.513,-9.51],[0.547,-9.63],[0.509,-9.75],[0.534,-9.87],[0.521,-9.99],[0.54,-10.11],[0.505,-10.23],[0.528,-10.35],[0.516,-10.47],[0.543,-10.59],[0.511,-10.71],[0.536,-10.83],[0.523,-10.95],[0.501,-11.07],[0.549,-11.19],[0.518,-11.31],[0.53,-11.43],[0.506,-11.55],[0.541,-11.67],[0.514,-11.79],[0.526,-11.91],[0.545,-12.03],[0.503,-12.15],[0.533,-12.3],[0.52,-12.5],
[0.507,-12.75],[0.507,-13.35],[0.513,-13.1],[0.557,-12.5],[0.548,-13.93],[0.52,-14.42],[0.52,-14.63],[0.512,-15.8],[0.54,-12.9],
[0.58,-8.86],[0.564,-10.58],[0.555,-10.7],[0.56,-9.7],[0.575,-10.1],[0.59,-11.4],[0.58,-11.7],[0.59,-11.8],[0.6,-10.28],[0.57,-11.2],[0.585,-12.2],[0.595,-12.6],[0.565,-12.8],[0.555,-9.3],[0.568,-9.9],[0.552,-11.5],[0.562,-11.9],[0.578,-12.4],[0.553,-10.2],[0.572,-10.9],
[0.605,-13.17],[0.626,-13.31],[0.62,-13.65],[0.624,-13.87],[0.626,-14.23],[0.633,-12.97],[0.64,-12.95],[0.645,-12.9],[0.67,-12.67],[0.645,-10.88],[0.65,-11.18],[0.62,-11.55],[0.614,-12.52],[0.61,-11.0],[0.63,-12.2],
[0.765,-11.18],[0.831,-12.75],[0.809,-13.79],[0.813,-14.68],[0.814,-15.36],
// green squares scattered inside the upper blue cloud
[0.175,-4.9],[0.19,-5.0],[0.21,-5.1],[0.225,-5.5],[0.235,-5.3],[0.25,-5.9],[0.26,-5.6],[0.27,-6.2],[0.285,-5.9],[0.3,-6.1],[0.32,-6.3],[0.295,-6.6],[0.34,-6.8],[0.36,-7.0],[0.265,-6.5],[0.315,-6.6],
// denser core of the 8000 Hz cloud
[0.032,-4.2],[0.008,-4.26],[0.045,-4.32],[0.02,-4.38],[0.038,-4.43],[0.013,-4.49],[0.05,-4.55],[0.025,-4.61],[0.016,-4.67],[0.042,-4.72],[0.029,-4.78],[0.006,-4.84],[0.049,-4.9],[0.022,-4.96],[0.035,-5.01],[0.011,-5.07],[0.047,-5.13],[0.018,-5.19],[0.04,-5.25],[0.027,-5.3],[0.048,-5.36],[0.014,-5.42],[0.033,-5.48],[0.009,-5.54],[0.044,-5.59],[0.023,-5.65],[0.036,-5.71],[0.017,-5.77],[0.05,-5.83],[0.007,-5.9],
[0.055,-4.35],[0.079,-4.44],[0.092,-4.53],[0.067,-4.61],[0.086,-4.7],[0.061,-4.79],[0.074,-4.88],[0.098,-4.97],[0.052,-5.05],[0.083,-5.14],[0.069,-5.23],[0.094,-5.32],[0.058,-5.41],[0.077,-5.49],[0.089,-5.58],[0.064,-5.67],[0.081,-5.76],[0.051,-5.85],[0.096,-5.93],[0.072,-6.02],[0.06,-6.11],[0.087,-6.2],[0.075,-6.29],[0.093,-6.37],[0.066,-6.46],[0.053,-6.55],[0.084,-6.64],[0.071,-6.73],[0.097,-6.81],[0.062,-6.9],
[0.127,-4.8],[0.103,-4.91],[0.14,-5.02],[0.115,-5.13],[0.133,-5.24],[0.108,-5.35],[0.146,-5.46],[0.12,-5.57],[0.111,-5.68],[0.137,-5.79],[0.124,-5.9],[0.101,-6.01],[0.144,-6.12],[0.117,-6.23],[0.13,-6.34],[0.106,-6.45],[0.142,-6.56],[0.113,-6.67],[0.135,-6.78],[0.122,-6.89],[0.148,-7.0],[0.109,-7.11],[0.128,-7.22],[0.104,-7.33],[0.139,-7.44],[0.118,-7.55],[0.131,-7.66],[0.112,-7.77],[0.145,-7.88],[0.102,-7.99],[0.125,-8.1],[0.136,-8.25],
[0.155,-5.45],[0.179,-5.58],[0.192,-5.71],[0.167,-5.84],[0.186,-5.97],[0.161,-6.1],[0.174,-6.23],[0.198,-6.36],[0.152,-6.49],[0.183,-6.62],[0.169,-6.75],[0.194,-6.88],[0.158,-7.01],[0.177,-7.14],[0.189,-7.27],[0.164,-7.4],[0.181,-7.53],[0.151,-7.66],[0.196,-7.79],[0.172,-7.92],[0.16,-8.05],[0.187,-8.18],[0.175,-8.31],[0.193,-8.44],[0.166,-8.57],[0.153,-8.7],[0.184,-8.83],[0.171,-8.96],[0.197,-9.09],[0.162,-9.22],[0.178,-9.35],[0.19,-9.48],
[0.227,-6.4],[0.203,-6.53],[0.24,-6.66],[0.215,-6.79],[0.233,-6.92],[0.208,-7.05],[0.246,-7.18],[0.22,-7.31],[0.211,-7.44],[0.237,-7.57],[0.224,-7.7],[0.201,-7.83],[0.244,-7.96],[0.217,-8.09],[0.23,-8.22],[0.206,-8.35],[0.242,-8.48],[0.213,-8.61],[0.235,-8.74],[0.222,-8.87],[0.248,-9.0],[0.209,-9.13],[0.228,-9.26],[0.204,-9.39],[0.239,-9.52],[0.218,-9.65],[0.231,-9.78],[0.212,-9.91],[0.245,-10.04],[0.202,-10.17],
[0.255,-6.9],[0.279,-7.04],[0.292,-7.18],[0.267,-7.32],[0.286,-7.46],[0.261,-7.6],[0.274,-7.74],[0.298,-7.88],[0.252,-8.02],[0.283,-8.16],[0.269,-8.3],[0.294,-8.44],[0.258,-8.58],[0.277,-8.72],[0.289,-8.86],[0.264,-9.0],[0.281,-9.14],[0.251,-9.28],[0.296,-9.42],[0.272,-9.56],[0.26,-9.7],[0.287,-9.84],[0.275,-9.98],[0.293,-10.12],[0.266,-10.26],[0.253,-10.4],[0.284,-10.54],[0.271,-10.68],[0.297,-10.82],[0.262,-10.96],
[0.327,-7.45],[0.303,-7.59],[0.34,-7.73],[0.315,-7.87],[0.333,-8.01],[0.308,-8.15],[0.346,-8.29],[0.32,-8.43],[0.311,-8.57],[0.337,-8.71],[0.324,-8.85],[0.301,-8.99],[0.344,-9.13],[0.317,-9.27],[0.33,-9.41],[0.306,-9.55],[0.342,-9.69],[0.313,-9.83],[0.335,-9.97],[0.322,-10.11],[0.348,-10.25],[0.309,-10.39],[0.328,-10.53],[0.304,-10.67],[0.339,-10.81],[0.318,-10.95],[0.331,-11.09],[0.312,-11.23],
[0.355,-7.9],[0.379,-8.05],[0.392,-8.2],[0.367,-8.35],[0.386,-8.5],[0.361,-8.65],[0.374,-8.8],[0.398,-8.95],[0.352,-9.1],[0.383,-9.25],[0.369,-9.4],[0.394,-9.55],[0.358,-9.7],[0.377,-9.85],[0.389,-10.0],[0.364,-10.15],[0.381,-10.3],[0.351,-10.45],[0.396,-10.6],[0.372,-10.75],[0.36,-10.9],[0.387,-11.05],[0.375,-11.2],[0.393,-11.35],
[0.427,-8.3],[0.403,-8.45],[0.44,-8.6],[0.415,-8.75],[0.433,-8.9],[0.408,-9.05],[0.446,-9.2],[0.42,-9.35],[0.411,-9.5],[0.437,-9.65],[0.424,-9.8],[0.401,-9.95],[0.444,-10.1],[0.417,-10.25],[0.43,-10.4],[0.406,-10.55],[0.442,-10.7],[0.413,-10.85],[0.435,-11.0],[0.422,-11.15],[0.448,-11.3],[0.409,-11.45],[0.428,-11.6],[0.404,-11.75],
[0.455,-8.8],[0.479,-8.97],[0.492,-9.14],[0.467,-9.31],[0.486,-9.48],[0.461,-9.65],[0.474,-9.82],[0.498,-9.99],[0.452,-10.16],[0.483,-10.33],[0.469,-10.5],[0.494,-10.67],[0.458,-10.84],[0.477,-11.01],[0.489,-11.18],[0.464,-11.35],[0.481,-11.52],[0.451,-11.69],[0.496,-11.86],[0.472,-12.03]
];

// decay levels (dashed) and the two straight decay lines
var levels = [-4.47, -10.53];
var line125 = [[0.13, -4.47], [1.136, -10.53]];
var line8000 = [[0.06, -4.47], [0.567, -10.53]];
var yTickExps = [-17, -16, -15, -14, -13, -12, -11, -10, -9, -8, -7, -6, -5, -4];
var xTickLabels = ['0', '0.2', '0.4', '0.6', '0.8', '1', '1.2', '1.4'];

var xMin = -0.0125, xMax = 1.6, yMin = -17.68, yMax = -3.83;

var supMap = {'-': '⁻', '0': '⁰', '1': '¹', '2': '²', '3': '³', '4': '⁴', '5': '⁵', '6': '⁶', '7': '⁷', '8': '⁸', '9': '⁹'};
function pow10Label(v) {
	var r = Math.round(v);
	if (Math.abs(v - r) > 1e-6 || yTickExps.indexOf(r) < 0) return '';
	return '10' + String(r).split('').map(function (c) { return supMap[c]; }).join('');
}
function xLabel(v) {
	for (var i = 0; i < xTickLabels.length; i++) {
		if (Math.abs(parseFloat(xTickLabels[i]) - v) < 1e-6) return xTickLabels[i];
	}
	return '';
}

var font = 'DejaVu Sans';
var myChart = echarts.init(document.getElementById('chart'));
var frameLine = { show: true, lineStyle: { color: '#6e6e6e', width: 1 } };
var tickStyle = { show: true, inside: true, length: 4, lineStyle: { color: '#555' } };
var option = {
	animation: false,
	backgroundColor: '#fff',
	title: {
		text: 'Reflectogram',
		left: 232,
		top: 6,
		textStyle: { fontFamily: font, fontSize: 8, fontWeight: 'normal', color: '#333' }
	},
	legend: {
		data: ['f_c = 125 Hz', 'f_c = 8000 Hz'],
		orient: 'vertical',
		left: 373,
		top: 32,
		itemWidth: 5,
		itemHeight: 5,
		itemGap: 5,
		padding: [3, 7, 3, 16],
		backgroundColor: '#fff',
		borderColor: '#888',
		borderWidth: 1,
		shadowColor: 'rgba(0,0,0,0.35)',
		shadowOffsetX: 1.5,
		shadowOffsetY: 1.5,
		shadowBlur: 0,
		formatter: function (name) {
			return '{f|f}{s|c}{t|' + name.replace('f_c', '') + '}';
		},
		textStyle: {
			padding: [0, 0, 0, 4],
			rich: {
				f: { fontFamily: font, fontSize: 8, color: '#333' },
				s: { fontFamily: font, fontSize: 5, color: '#333', padding: [5, 0, 0, 0] },
				t: { fontFamily: font, fontSize: 8, color: '#333' }
			}
		}
	},
	grid: { left: 46, right: 8, top: 23, bottom: 24, containLabel: false, outerBoundsMode: 'none' },
	xAxis: [{
		type: 'value', min: xMin, max: xMax, splitNumber: 8,
		name: 't (s)', nameLocation: 'middle', nameGap: 6,
		nameTextStyle: { fontFamily: font, fontSize: 8, color: '#333' },
		axisLine: frameLine,
		axisTick: tickStyle,
		axisLabel: { fontFamily: font, fontSize: 8, color: '#333', margin: 4, formatter: xLabel },
		splitLine: { show: true, lineStyle: { color: '#e8e8e8', width: 1 } }
	}, {
		type: 'value', min: xMin, max: xMax, splitNumber: 8, position: 'top',
		axisLine: frameLine,
		axisTick: tickStyle,
		axisLabel: { show: false },
		splitLine: { show: false }
	}],
	yAxis: [{
		type: 'value', min: yMin, max: yMax, splitNumber: 14,
		name: 'log10(Power)', nameLocation: 'middle', nameGap: 33,
		nameTextStyle: { fontFamily: font, fontSize: 8, color: '#333' },
		axisLine: frameLine,
		axisTick: tickStyle,
		axisLabel: { fontFamily: font, fontSize: 8, color: '#333', margin: 5, formatter: pow10Label },
		splitLine: { show: true, lineStyle: { color: '#e8e8e8', width: 1 } }
	}, {
		type: 'value', min: yMin, max: yMax, splitNumber: 14, position: 'right',
		axisLine: frameLine,
		axisTick: tickStyle,
		axisLabel: { show: false },
		splitLine: { show: false }
	}],
	series: [
		{
			name: 'f_c = 125 Hz', type: 'scatter', symbol: 'rect', symbolSize: 4.6,
			itemStyle: { color: '#1a36f2', opacity: 1 },
			data: blue125
		},
		{
			name: 'f_c = 8000 Hz', type: 'scatter', symbol: 'rect', symbolSize: 4.6,
			itemStyle: { color: '#28b23c', opacity: 1 },
			data: green8000
		},
		{
			type: 'line', symbol: 'none', silent: true, z: 5,
			lineStyle: { color: '#111', width: 1.8, type: [9, 6] },
			data: [[xMin, levels[0]], [xMax, levels[0]]]
		},
		{
			type: 'line', symbol: 'none', silent: true, z: 5,
			lineStyle: { color: '#111', width: 1.8, type: [9, 6] },
			data: [[xMin, levels[1]], [xMax, levels[1]]]
		},
		{
			type: 'line', symbol: 'none', silent: true, z: 5,
			lineStyle: { color: '#000', width: 1.8 },
			data: line125
		},
		{
			type: 'line', symbol: 'none', silent: true, z: 5,
			lineStyle: { color: '#000', width: 1.8 },
			data: line8000
		}
	]
};
myChart.setOption(option);
</script>
</body>
</html>
